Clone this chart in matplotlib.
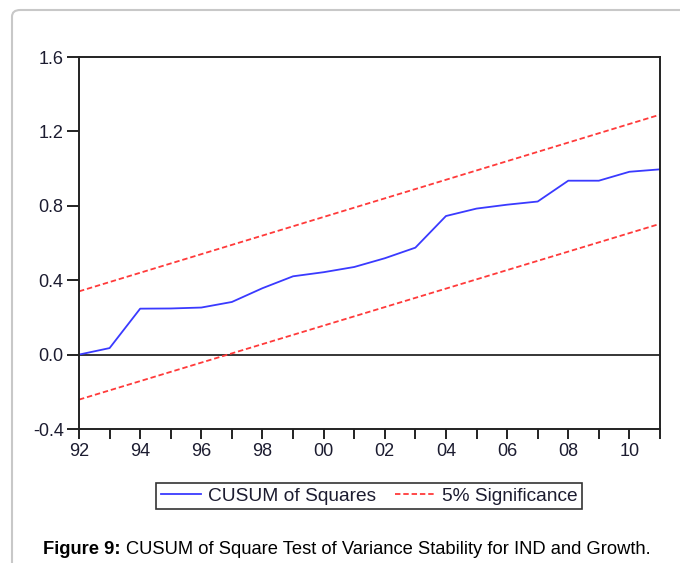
import matplotlib
matplotlib.use('Agg')
import matplotlib.pyplot as plt
from matplotlib.patches import FancyBboxPatch

plt.rcParams['font.family'] = ['Liberation Sans', 'DejaVu Sans']

# Данные
years = list(range(1992, 2012))
cusum_sq = [0.0, 0.035, 0.247, 0.248, 0.253, 0.283, 0.357, 0.421, 0.443, 0.471,
            0.518, 0.575, 0.745, 0.785, 0.806, 0.823, 0.935, 0.935, 0.983, 0.996]
bound_years = [1992, 2011]
upper_bound = [0.34, 1.29]
lower_bound = [-0.242, 0.703]
y_ticks = [-0.4, 0.0, 0.4, 0.8, 1.2, 1.6]
x_label_years = list(range(1992, 2011, 2))

fig = plt.figure(figsize=(6.8, 5.63), dpi=100)

# рамка вокруг рисунка
frame = FancyBboxPatch((12 / 680, -0.05), 1.2, 1 - 10 / 563 + 0.05,
                       boxstyle='round,pad=0,rounding_size=0.012',
                       transform=fig.transFigure, fill=False,
                       edgecolor='#c8c8c8', linewidth=1.5, clip_on=False)
fig.patches.append(frame)

ax = fig.add_axes([79 / 680, 1 - 429 / 563, (660 - 79) / 680, (429 - 57) / 563])

ax.axhline(0, color='black', linewidth=1.1)
line1, = ax.plot(years, cusum_sq, color='#3a3aff', linewidth=1.3, label='CUSUM of Squares')
line2, = ax.plot(bound_years, upper_bound, color='#ff3a3a', linewidth=1.3,
                 linestyle=(0, (3, 1.6)), label='5% Significance')
ax.plot(bound_years, lower_bound, color='#ff3a3a', linewidth=1.3, linestyle=(0, (3, 1.6)))

ax.set_xlim(1992, 2011)
ax.set_ylim(-0.4, 1.6)
ax.set_yticks(y_ticks)
ax.set_yticklabels(['%.1f' % v for v in y_ticks])
ax.set_xticks(years)
ax.set_xticklabels([('%02d' % (y % 100)) if y in x_label_years else '' for y in years])

for s in ax.spines.values():
    s.set_linewidth(1.4)
    s.set_color('#222222')
ax.tick_params(axis='both', direction='out', width=1.4, color='#222222',
               labelsize=13, labelcolor='#1c1c30')
ax.tick_params(axis='y', length=9, pad=2)
ax.tick_params(axis='x', length=7, pad=3)

leg = fig.legend(handles=[line1, line2], loc='center', bbox_to_anchor=(0.5426, 0.119),
                 ncol=2, fontsize=13.8, frameon=True, fancybox=False, handlelength=2.1,
                 handletextpad=0.35, columnspacing=1.0, borderpad=0.22, borderaxespad=0)
leg.get_frame().set_edgecolor('black')
leg.get_frame().set_linewidth(1.2)
for t in leg.get_texts():
    t.set_color('#1c1c30')

# подпись
cap_y = 1 - 553.5 / 563
t1 = fig.text(43 / 680, cap_y, 'Figure 9:', fontsize=13.2, fontweight='bold', ha='left', va='baseline')
fig.canvas.draw()
bb = t1.get_window_extent()
fig.text((bb.x1 + 6) / 680, cap_y, 'CUSUM of Square Test of Variance Stability for IND and Growth.',
         fontsize=13.2, ha='left', va='baseline')

fig.savefig('out.png', dpi=100)
